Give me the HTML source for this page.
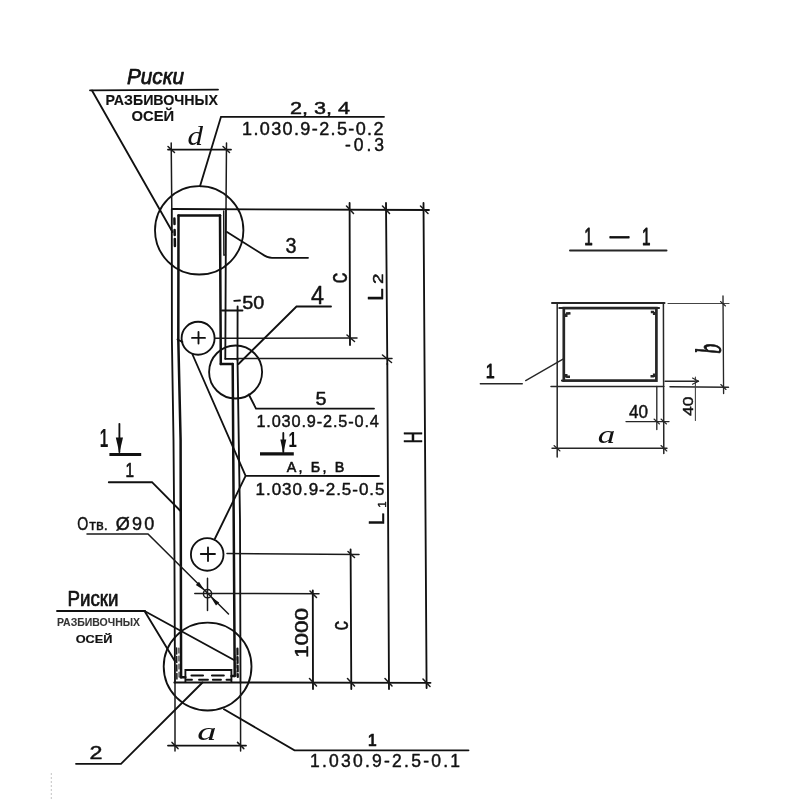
<!DOCTYPE html>
<html lang="ru">
<head>
<meta charset="utf-8">
<title>Колонна — разбивочные оси</title>
<style>
  html, body { margin: 0; padding: 0; background: #ffffff; }
  body { width: 800px; height: 800px; overflow: hidden; }
  svg { display: block; }
  .ln  { stroke: #111; stroke-width: 1.85; fill: none; stroke-linecap: round; }
  .th  { stroke: #111; stroke-width: 2.5; fill: none; stroke-linecap: round; }
  .tn  { stroke: #1a1a1a; stroke-width: 1.5; fill: none; stroke-linecap: round; }
  .lt  { stroke: #444; stroke-width: 1.2; fill: none; stroke-linecap: round; }
  .sc  { stroke: #262626; stroke-width: 1.35; fill: none; stroke-linecap: round; }
  .bar { stroke: #111; stroke-width: 3; fill: none; }
  text { font-family: "Liberation Sans", "DejaVu Sans", sans-serif; fill: #111; stroke: #111; stroke-width: 0.45; stroke-linejoin: round; }
  .b { font-weight: bold; }
  .i { font-style: italic; }
  .si { font-family: "Liberation Serif", "DejaVu Serif", serif; font-style: italic; }
</style>
</head>
<body>
<svg width="800" height="800" viewBox="0 0 800 800">
<rect x="0" y="0" width="800" height="800" fill="#ffffff"/>

<!-- ============ COLUMN BODY ============ -->
<g id="column">
  <!-- outer left -->
  <path class="ln" d="M171.8 209 L171.9 340 L173.5 440 L174.4 550 L175 682.5"/>
  <!-- inner left -->
  <path class="th" d="M178.5 215.6 L178.3 340 L180.6 440 L181.1 677.2"/>
  <!-- top outer + long extension -->
  <line class="ln" x1="172" y1="209" x2="429" y2="210"/>
  <!-- inner top -->
  <line class="th" x1="178.5" y1="215.6" x2="220" y2="215.6"/>
  <!-- upper inner right -->
  <line class="th" x1="220" y1="215.6" x2="220.8" y2="364"/>
  <!-- upper outer right -->
  <line class="ln" x1="226" y1="209" x2="225.3" y2="358.8"/>
  <!-- extra plate line near top right -->
  <path class="tn" d="M223.7 211 L223.9 255 L225.5 255"/>
  <!-- step -->
  <path class="th" d="M220.8 364 L232.5 364"/>
  <path class="ln" d="M225.3 358.8 L237.4 358.8"/>
  <!-- lower inner right -->
  <line class="th" x1="232.7" y1="364" x2="234.7" y2="676"/>
  <!-- lower outer right -->
  <path class="ln" d="M237.5 358.8 L238.75 440 L240 520 L240.5 682.5"/>
  <!-- bottom -->
  <line class="ln" x1="174.3" y1="682.5" x2="240.5" y2="682.5"/>
  <path class="th" d="M180.8 677.2 L185.3 677.2 M231.5 676 L234.4 676"/>
  <!-- bottom plate -->
  <path class="ln" d="M185.4 682 L185.4 670 L231.4 670 L231.4 682"/>
  <path class="th" d="M191.5 675.5 L203 675.5 M212 675.5 L223.8 675.5" style="stroke-width:2.1"/>
  <path class="ln" d="M186.6 679.7 L192 679.7 M199 679.7 L208 679.7 M212.8 679.7 L221 679.7 M226.5 679.7 L231.3 679.7"/>
  <!-- dashed risks top-left -->
  <path class="th" d="M174.4 218.5 L174.5 224 M174.6 230 L174.7 235 M174.8 239 L174.9 246" stroke-width="2.4"/>
  <!-- dashed risks bottom -->
  <path class="tn" d="M176.6 648 L176.9 679" stroke-dasharray="6 2.5"/>
  <path class="tn" d="M178.9 648 L179.1 679" stroke-dasharray="5 3" style="stroke-width:1.1"/>
  <path class="ln" d="M237.4 648.5 L237.8 677" stroke-dasharray="6 2.5" style="stroke-width:2.2"/>
  <path class="tn" d="M235.9 655 L236 677" stroke-dasharray="5 3" style="stroke-width:1"/>
</g>

<!-- ============ DETAIL CIRCLES ============ -->
<g id="circles">
  <circle class="ln" cx="199.2" cy="230.3" r="44.2"/>
  <circle class="ln" cx="235.6" cy="372" r="26.5"/>
  <circle class="ln" cx="207.6" cy="666.6" r="43.9"/>
  <circle class="ln" cx="198.1" cy="338.2" r="16.5"/>
  <circle class="ln" cx="207.2" cy="554.4" r="16.3"/>
  <path class="ln" d="M192 337.9 L205 337.9 M198.5 332 L198.5 343.6"/>
  <path class="ln" d="M200.8 554 L215 554 M208 547.5 L208 561"/>
  <!-- hole -->
  <circle class="tn" cx="207.5" cy="593.7" r="4.1"/>
  <path class="tn" d="M207.5 578.3 L207.5 610.5 M194.8 593.4 L319 593.8"/>
</g>

<!-- ============ DIMENSIONS (elevation) ============ -->
<g id="dims">
  <!-- d -->
  <line class="ln" x1="168" y1="149.6" x2="231" y2="149.6"/>
  <line class="tn" x1="171.2" y1="143" x2="171.8" y2="209"/>
  <line class="tn" x1="226.5" y1="143" x2="226" y2="209"/>
  <path class="tn" d="M168 146.5 L174.5 152.5 M223 146.5 L229.5 152.5"/>
  <!-- vertical dimension lines -->
  <line class="ln" x1="349.6" y1="203" x2="350" y2="345"/>
  <line class="ln" x1="386" y1="203" x2="387.3" y2="364"/>
  <line class="ln" x1="387.3" y1="364" x2="389" y2="689"/>
  <line class="ln" x1="423.5" y1="203" x2="426.6" y2="688"/>
  <line class="ln" x1="350.6" y1="549.5" x2="351.3" y2="689"/>
  <line class="ln" x1="312.8" y1="590.5" x2="313" y2="689"/>
  <!-- horizontals -->
  <line class="tn" x1="214.8" y1="338.2" x2="357" y2="338"/>
  <line class="tn" x1="237.4" y1="358.6" x2="392" y2="358.6"/>
  <line class="tn" x1="227" y1="553.5" x2="359" y2="554.4"/>
  <line class="ln" x1="240.5" y1="682.5" x2="430.5" y2="682.8"/>
  <!-- ticks -->
  <path class="tn" d="M346.5 206 L353.5 213.5 M382.5 206 L389.5 213.5 M420.5 206 L428 213.5
                     M347 335 L354.5 341.5 M382.5 355 L391.5 362.5
                     M348 551.5 L354.5 557.5 M310 591 L316.5 597.5
                     M309.5 678.5 L316.5 686 M347.5 678.5 L354.5 686 M385 678.5 L392 686 M423 679 L430 686.5"/>
  <!-- 50 -->
  <path class="ln" d="M222 310.5 L242.5 310.5 M237.6 306.5 L237.5 360"/>
  <!-- a bottom -->
  <line class="ln" x1="168" y1="745.6" x2="246" y2="745.6"/>
  <line class="tn" x1="175" y1="683" x2="175" y2="751"/>
  <line class="tn" x1="240.5" y1="683" x2="240.6" y2="751"/>
  <path class="tn" d="M172 742.4 L178 748.6 M237.5 742.4 L243.8 748.6"/>
</g>

<!-- ============ LEADERS ============ -->
<g id="leaders">
  <!-- Риски top -->
  <line class="ln" x1="90" y1="90.3" x2="218" y2="89.6"/>
  <line class="ln" x1="92" y1="90.5" x2="172.5" y2="232"/>
  <!-- 2,3,4 -->
  <path class="ln" d="M200 186.2 L221 116.8 L384 116.8"/>
  <!-- 3 -->
  <path class="ln" d="M227 232 L262 254 Q267 257.8 272 257.8 L308 257.8"/>
  <!-- 4 -->
  <path class="ln" d="M238.5 364 L296.5 306.5 L331 306.5"/>
  <!-- 5 -->
  <path class="ln" d="M248.8 394.5 L256 408.6 L374 408.6"/>
  <!-- A,Б,В -->
  <path class="ln" d="M192.5 354.5 L245.6 475.8 L379 476 M245.6 475.8 L215 538.5"/>
  <path class="ln" d="M177.5 339.5 L182.4 341.8"/>
  <!-- 1 (left) -->
  <path class="ln" d="M108.8 482.2 L152 482.2 L180 510.5"/>
  <!-- Отв -->
  <path class="tn" d="M87 534 L148 534 L228.5 614"/>
  <path d="M204.4 590.6 L195.8 585 L199 581.8 Z" fill="#111"/>
  <path d="M210.6 596.8 L219.2 602.4 L216 605.6 Z" fill="#111"/>
  <!-- Риски bottom -->
  <line class="ln" x1="57" y1="611" x2="145" y2="611"/>
  <line class="ln" x1="144.5" y1="611" x2="174.8" y2="661"/>
  <line class="ln" x1="144.5" y1="611" x2="234" y2="660"/>
  <!-- 2 -->
  <path class="ln" d="M76 763.8 L121 763.8 L202.5 682.5"/>
  <!-- 1 bottom right -->
  <path class="ln" d="M224 709.3 L294.5 750.3 L468.5 750.3"/>
</g>

<!-- faint scan artefact -->
<line x1="51.3" y1="773" x2="51.3" y2="800" stroke="#c4c4c4" stroke-width="1" stroke-dasharray="2 2"/>

<!-- ============ SECTION MARKS ============ -->
<g id="secmarks">
  <line class="bar" x1="109.4" y1="454.4" x2="141.2" y2="454.4"/>
  <line class="ln" x1="119.4" y1="423.8" x2="119.4" y2="452"/>
  <path d="M119.4 453 L115.8 437.5 L123 437.5 Z" fill="#111"/>
  <line class="bar" x1="260" y1="453.9" x2="293.8" y2="453.9" style="stroke-width:3.4"/>
  <line class="ln" x1="283.3" y1="433" x2="283.3" y2="452"/>
  <path d="M283.3 453 L280.3 439.5 L286.3 439.5 Z" fill="#111"/>
</g>

<!-- ============ SECTION 1-1 ============ -->
<g id="section">
  <line class="sc" x1="570" y1="250.5" x2="666.5" y2="250.5" style="stroke-width:2"/>
  <!-- outer -->
  <path class="sc" d="M552 302.9 L664.5 302.9" style="stroke-width:2"/>
  <path class="sc" d="M557.2 302.9 L557.2 457 M663.4 302.9 L663.8 453.5 M551 386.5 L664 386.5 M670 386.8 L728.5 387.2" style="stroke-width:1.5"/>
  <path class="sc" d="M668 303.5 L729 303.5" style="stroke-width:1.1;stroke:#444"/>
  <!-- inner thick -->
  <rect class="sc" x="563.8" y="308.1" width="92.6" height="72.5" style="stroke-width:2.7"/>
  <path class="sc" d="M559.4 308 L564 308 M656 308 L659 308 M562 380.6 L564 380.6" style="stroke-width:2.2"/>
  <!-- corner bars -->
  <path class="sc" d="M566 313.6 L570.5 313.2 M566.2 313.6 L566.2 317  M654.2 312 L650.8 312 M654.2 312 L654.2 315  M566.2 376.8 L570 376.8 M566.2 377.5 L566.2 374  M654.2 376.2 L650.5 376.2 M654.2 377 L654.2 373.5" style="stroke-width:2.6;stroke-linecap:butt"/>
  <!-- b -->
  <line class="sc" x1="723" y1="296" x2="723.6" y2="393.5"/>
  <path class="sc" d="M720.5 301.5 L725.5 306 M720.8 384.5 L726 389.5" style="stroke-width:1.1"/>
  <!-- 40 vertical -->
  <line class="sc" x1="665" y1="381.2" x2="698.5" y2="381.2"/>
  <line class="sc" x1="695.4" y1="377" x2="695.4" y2="420.5" style="stroke-width:1.1;stroke:#444"/>
  <path class="sc" d="M692.5 378 L698.5 381.2 M692.5 384.2 L698.5 381.2" style="stroke-width:1.1"/>
  <!-- 40 horizontal -->
  <line class="sc" x1="626" y1="421.6" x2="669" y2="421.6"/>
  <line class="sc" x1="656.8" y1="386.5" x2="656.8" y2="429.5"/>
  <path class="sc" d="M654 419 L659.5 424 M661 419 L666.5 424" style="stroke-width:1.1"/>
  <!-- a -->
  <line class="sc" x1="552" y1="448.2" x2="667" y2="448.2"/>
  <path class="sc" d="M554 445.5 L560 451 M661 445.5 L666.8 451" style="stroke-width:1.1"/>
  <!-- leader 1 -->
  <path class="sc" d="M480.3 383.7 L522.3 383.7 M525.7 380.6 L563 359.2"/>
</g>

<!-- ============ TEXT ============ -->
<g id="labels" opacity="0.995">
  <text class="i" x="127" y="83.6" font-size="21.5" textLength="57" lengthAdjust="spacingAndGlyphs" style="stroke-width:0.75">Риски</text>
  <text class="b" x="105.5" y="105.2" font-size="13.8" textLength="112.5" lengthAdjust="spacingAndGlyphs" style="stroke-width:0.15">РАЗБИВОЧНЫХ</text>
  <text class="b" x="131.6" y="120.5" font-size="14" textLength="42.6" lengthAdjust="spacingAndGlyphs" style="stroke-width:0.15">ОСЕЙ</text>
  <text class="si" x="187.5" y="145" font-size="27" textLength="15.5" lengthAdjust="spacingAndGlyphs" style="stroke:none">d</text>
  <text x="290" y="113.7" font-size="16.5" textLength="60" lengthAdjust="spacingAndGlyphs">2, 3, 4</text>
  <text x="242" y="135.3" font-size="18" textLength="141.5" lengthAdjust="spacing">1.030.9-2.5-0.2</text>
  <text x="345" y="150.6" font-size="17.5" textLength="39" lengthAdjust="spacing">-0.3</text>
  <text x="285.5" y="252.5" font-size="22" textLength="11" lengthAdjust="spacingAndGlyphs">3</text>
  <text x="311" y="303.7" font-size="25" textLength="13" lengthAdjust="spacingAndGlyphs">4</text>
  <text x="242.3" y="308.7" font-size="17.5" textLength="22" lengthAdjust="spacingAndGlyphs">50</text>
  <path class="ln" d="M234.2 300.8 L240 300.5"/>
  <text x="315.5" y="404.6" font-size="18" textLength="11" lengthAdjust="spacingAndGlyphs">5</text>
  <text x="256.4" y="426.6" font-size="16.3" textLength="122.5" lengthAdjust="spacing">1.030.9-2.5-0.4</text>
  <text x="286.8" y="472.3" font-size="14.3" textLength="57.5" lengthAdjust="spacing" style="stroke-width:0.6">А, Б, В</text>
  <text x="255.5" y="495" font-size="17" textLength="129" lengthAdjust="spacing">1.030.9-2.5-0.5</text>
  <text class="b" x="99.8" y="447.3" font-size="26" textLength="8.5" lengthAdjust="spacingAndGlyphs" style="stroke-width:0.1">1</text>
  <text class="b" x="288.6" y="447" font-size="22" textLength="8.3" lengthAdjust="spacingAndGlyphs" style="stroke-width:0.1">1</text>
  <text x="125.5" y="476.8" font-size="19.5" textLength="8.5" lengthAdjust="spacingAndGlyphs" style="stroke-width:0.7">1</text>
  <text y="530" font-size="18"><tspan x="77.3" textLength="11" lengthAdjust="spacingAndGlyphs">О</tspan><tspan x="89.3" font-size="15.5" textLength="18.5" lengthAdjust="spacingAndGlyphs">тв.</tspan><tspan> </tspan><tspan x="115.8" textLength="38.5" lengthAdjust="spacing">Ø90</tspan></text>
  <text x="67.5" y="605.5" font-size="21.5" textLength="51" lengthAdjust="spacingAndGlyphs" style="stroke-width:0.7">Риски</text>
  <text class="b" x="57" y="625.8" font-size="11.5" textLength="83" lengthAdjust="spacingAndGlyphs" style="fill:#333;stroke:#333;stroke-width:0.1">РАЗБИВОЧНЫХ</text>
  <text class="b" x="75.7" y="643" font-size="11.5" textLength="36.8" lengthAdjust="spacingAndGlyphs" style="stroke-width:0.2">ОСЕЙ</text>
  <text class="si" x="197.3" y="740.4" font-size="25.5" textLength="19.2" lengthAdjust="spacingAndGlyphs" style="stroke:none">a</text>
  <text x="89.5" y="759" font-size="19" textLength="13" lengthAdjust="spacingAndGlyphs">2</text>
  <text class="b" x="368" y="746.2" font-size="17" textLength="8.5" lengthAdjust="spacingAndGlyphs">1</text>
  <text x="310" y="767.3" font-size="17.5" textLength="150" lengthAdjust="spacing">1.030.9-2.5-0.1</text>
  <!-- rotated -->
  <text transform="translate(346.6 283.6) rotate(-90)" font-size="25" textLength="10.8" lengthAdjust="spacingAndGlyphs">c</text>
  <text transform="translate(382.7 301) rotate(-90)" font-size="21.5"><tspan x="0" textLength="12.7" lengthAdjust="spacingAndGlyphs">L</tspan><tspan x="17" font-size="15" textLength="10.5" lengthAdjust="spacingAndGlyphs">2</tspan></text>
  <text transform="translate(422 443.6) rotate(-90)" font-size="25.5" textLength="12.3" lengthAdjust="spacingAndGlyphs">H</text>
  <text transform="translate(384 525.3) rotate(-90)" font-size="22"><tspan x="0" textLength="12.2" lengthAdjust="spacingAndGlyphs">L</tspan><tspan x="17.5" dy="1.5" font-size="11.5">1</tspan></text>
  <text transform="translate(307.7 658) rotate(-90)" font-size="17.5" textLength="50" lengthAdjust="spacingAndGlyphs">1000</text>
  <text transform="translate(348 630.5) rotate(-90)" font-size="23" textLength="9.5" lengthAdjust="spacingAndGlyphs">c</text>
  <!-- section -->
  <text y="245" font-size="23" style="stroke-width:0.9"><tspan x="584.3" textLength="8.5" lengthAdjust="spacingAndGlyphs">1</tspan><tspan x="610" dy="-1.8" textLength="19" lengthAdjust="spacingAndGlyphs">–</tspan><tspan x="642" dy="1.8" textLength="8.5" lengthAdjust="spacingAndGlyphs">1</tspan></text>
  <text class="si" transform="translate(720.8 353.8) rotate(-90)" font-size="36" textLength="10" lengthAdjust="spacingAndGlyphs" style="stroke-width:0.9">b</text>
  <text transform="translate(693.3 416) rotate(-90)" font-size="15.5" textLength="19.5" lengthAdjust="spacingAndGlyphs" fill="#333">40</text>
  <text x="629" y="418.3" font-size="17.5" textLength="19" lengthAdjust="spacingAndGlyphs" fill="#333">40</text>
  <text class="si" x="597.8" y="443.2" font-size="24.5" textLength="17.5" lengthAdjust="spacingAndGlyphs" style="stroke:none">a</text>
  <text x="485.8" y="377.8" font-size="19.3" textLength="9" lengthAdjust="spacingAndGlyphs" style="stroke-width:0.9">1</text>
</g>
</svg>
</body>
</html>
